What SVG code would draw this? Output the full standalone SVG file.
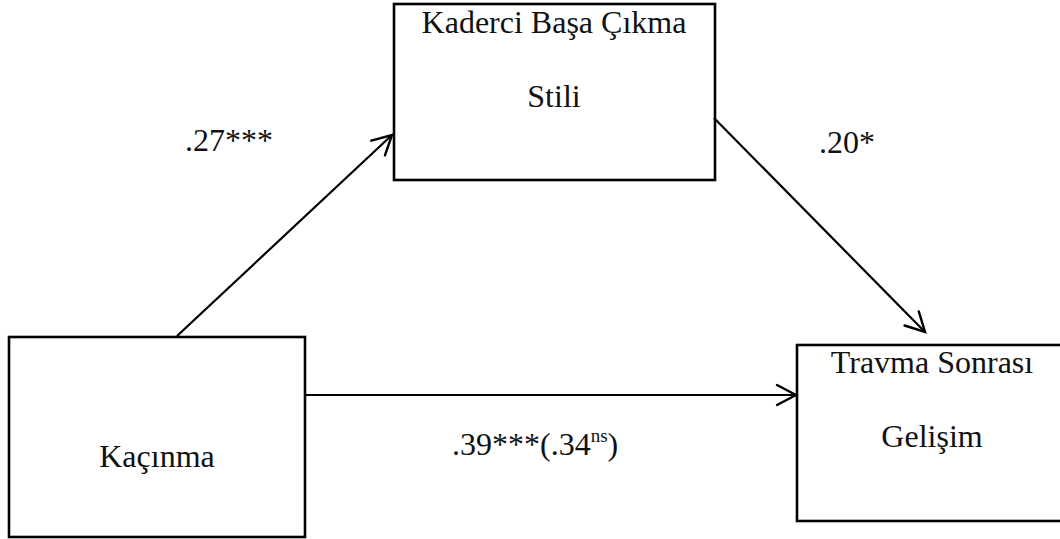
<svg xmlns="http://www.w3.org/2000/svg" width="1060" height="539" viewBox="0 0 1060 539">
  <style>
    .box { fill: #ffffff; stroke: #000000; stroke-width: 2.6; }
    .edge { fill: none; stroke: #000000; stroke-width: 2.2; }
    .lbl { font-family: "Liberation Serif", "Times New Roman", serif; font-size: 32px; fill: #111111; }
    .mid { text-anchor: middle; }
  </style>
  <defs>
    <marker id="open-arrow" viewBox="0 0 24 24" refX="21" refY="12" markerWidth="24" markerHeight="24" markerUnits="userSpaceOnUse" orient="auto">
      <path d="M 2 2 L 21 12 L 2 22" fill="none" stroke="#000000" stroke-width="2.4" stroke-linecap="round" stroke-linejoin="miter"/>
    </marker>
  </defs>

  <rect width="1060" height="539" fill="#ffffff"/>

  <g id="node-kaderci">
    <rect class="box" x="394" y="4" width="321" height="176"/>
    <text class="lbl mid" x="554" y="33">Kaderci Başa Çıkma</text>
    <text class="lbl mid" x="554" y="107">Stili</text>
  </g>

  <g id="node-kacinma">
    <rect class="box" x="9" y="337" width="296" height="200"/>
    <text class="lbl mid" x="157" y="467">Kaçınma</text>
  </g>

  <g id="node-travma">
    <rect class="box" x="797" y="345" width="280" height="176"/>
    <text class="lbl mid" x="932" y="373">Travma Sonrası</text>
    <text class="lbl mid" x="932" y="447">Gelişim</text>
  </g>

  <g id="connectors">
    <line class="edge" x1="177" y1="336" x2="392" y2="135" marker-end="url(#open-arrow)"/>
    <line class="edge" x1="714" y1="118" x2="925" y2="332" marker-end="url(#open-arrow)"/>
    <line class="edge" x1="305" y1="395" x2="796" y2="395" marker-end="url(#open-arrow)"/>
  </g>

  <g id="labels">
    <text class="lbl" x="185" y="151">.27***</text>
    <text class="lbl" x="819" y="153">.20*</text>
    <text class="lbl" x="452" y="455">.39***(.34<tspan font-size="19" dy="-13">ns</tspan><tspan dy="13">)</tspan></text>
  </g>
</svg>
